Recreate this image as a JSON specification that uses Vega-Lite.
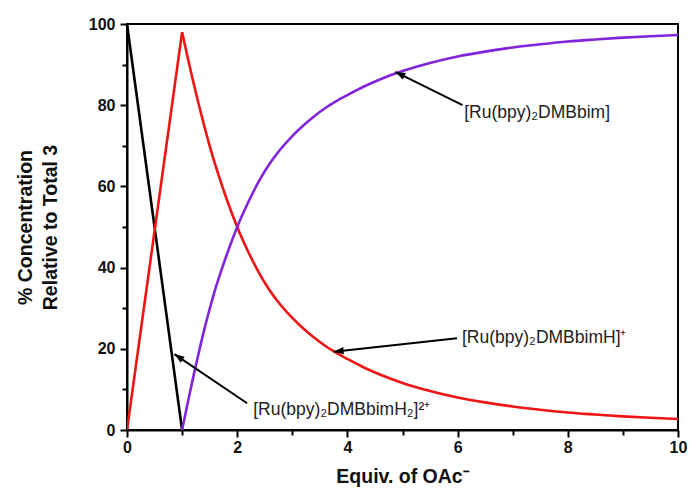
{
  "$schema": "https://vega.github.io/schema/vega-lite/v6.json",
  "width": 551,
  "height": 406,
  "autosize": {"type": "none"},
  "padding": {"left": 127, "top": 24, "right": 11, "bottom": 66},
  "background": "white",
  "config": {
    "view": {"stroke": "#000", "strokeWidth": 2},
    "font": "Liberation Sans",
    "axis": {
      "domainColor": "#000",
      "domainWidth": 2,
      "tickColor": "#000",
      "tickWidth": 2,
      "grid": false,
      "labelFont": "Liberation Sans",
      "labelFontWeight": "bold",
      "labelFontSize": 16,
      "labelColor": "#111",
      "titleFont": "Liberation Sans",
      "titleFontWeight": "bold",
      "titleFontSize": 19.5,
      "titleColor": "#111"
    }
  },
  "datasets": {
    "curves": [
      {"x": 0, "pct": 100, "species": "H2", "phase": "before"},
      {"x": 1, "pct": 0, "species": "H2", "phase": "before"},

      {"x": 0, "pct": 0, "species": "H", "phase": "before"},
      {"x": 1, "pct": 98, "species": "H", "phase": "before"},
      {"x": 1.0, "pct": 98, "species": "H", "phase": "after"},
      {"x": 1.1, "pct": 91.8, "species": "H", "phase": "after"},
      {"x": 1.2, "pct": 85.9, "species": "H", "phase": "after"},
      {"x": 1.3, "pct": 80.3, "species": "H", "phase": "after"},
      {"x": 1.4, "pct": 75.0, "species": "H", "phase": "after"},
      {"x": 1.5, "pct": 70.0, "species": "H", "phase": "after"},
      {"x": 1.6, "pct": 65.4, "species": "H", "phase": "after"},
      {"x": 1.7, "pct": 61.2, "species": "H", "phase": "after"},
      {"x": 1.8, "pct": 57.2, "species": "H", "phase": "after"},
      {"x": 1.9, "pct": 53.5, "species": "H", "phase": "after"},
      {"x": 2.0, "pct": 50.0, "species": "H", "phase": "after"},
      {"x": 2.2, "pct": 43.9, "species": "H", "phase": "after"},
      {"x": 2.4, "pct": 38.6, "species": "H", "phase": "after"},
      {"x": 2.6, "pct": 34.2, "species": "H", "phase": "after"},
      {"x": 2.8, "pct": 30.6, "species": "H", "phase": "after"},
      {"x": 3.0, "pct": 27.6, "species": "H", "phase": "after"},
      {"x": 3.2, "pct": 25.0, "species": "H", "phase": "after"},
      {"x": 3.4, "pct": 22.7, "species": "H", "phase": "after"},
      {"x": 3.6, "pct": 20.7, "species": "H", "phase": "after"},
      {"x": 3.8, "pct": 19.0, "species": "H", "phase": "after"},
      {"x": 4.0, "pct": 17.5, "species": "H", "phase": "after"},
      {"x": 4.3, "pct": 15.4, "species": "H", "phase": "after"},
      {"x": 4.6, "pct": 13.6, "species": "H", "phase": "after"},
      {"x": 5.0, "pct": 11.6, "species": "H", "phase": "after"},
      {"x": 5.5, "pct": 9.6, "species": "H", "phase": "after"},
      {"x": 6.0, "pct": 8.0, "species": "H", "phase": "after"},
      {"x": 6.5, "pct": 6.8, "species": "H", "phase": "after"},
      {"x": 7.0, "pct": 5.8, "species": "H", "phase": "after"},
      {"x": 7.5, "pct": 5.0, "species": "H", "phase": "after"},
      {"x": 8.0, "pct": 4.3, "species": "H", "phase": "after"},
      {"x": 8.5, "pct": 3.8, "species": "H", "phase": "after"},
      {"x": 9.0, "pct": 3.35, "species": "H", "phase": "after"},
      {"x": 9.5, "pct": 3.0, "species": "H", "phase": "after"},
      {"x": 10.0, "pct": 2.7, "species": "H", "phase": "after"},

      {"x": 1.0, "pct": 0, "species": "A", "phase": "after"},
      {"x": 1.1, "pct": 6.6, "species": "A", "phase": "after"},
      {"x": 1.2, "pct": 12.9, "species": "A", "phase": "after"},
      {"x": 1.3, "pct": 18.9, "species": "A", "phase": "after"},
      {"x": 1.4, "pct": 24.6, "species": "A", "phase": "after"},
      {"x": 1.5, "pct": 29.8, "species": "A", "phase": "after"},
      {"x": 1.6, "pct": 34.6, "species": "A", "phase": "after"},
      {"x": 1.7, "pct": 38.8, "species": "A", "phase": "after"},
      {"x": 1.8, "pct": 42.8, "species": "A", "phase": "after"},
      {"x": 1.9, "pct": 46.5, "species": "A", "phase": "after"},
      {"x": 2.0, "pct": 50.0, "species": "A", "phase": "after"},
      {"x": 2.2, "pct": 56.1, "species": "A", "phase": "after"},
      {"x": 2.4, "pct": 61.4, "species": "A", "phase": "after"},
      {"x": 2.6, "pct": 65.8, "species": "A", "phase": "after"},
      {"x": 2.8, "pct": 69.4, "species": "A", "phase": "after"},
      {"x": 3.0, "pct": 72.4, "species": "A", "phase": "after"},
      {"x": 3.2, "pct": 75.0, "species": "A", "phase": "after"},
      {"x": 3.4, "pct": 77.3, "species": "A", "phase": "after"},
      {"x": 3.6, "pct": 79.3, "species": "A", "phase": "after"},
      {"x": 3.8, "pct": 81.0, "species": "A", "phase": "after"},
      {"x": 4.0, "pct": 82.5, "species": "A", "phase": "after"},
      {"x": 4.3, "pct": 84.6, "species": "A", "phase": "after"},
      {"x": 4.6, "pct": 86.4, "species": "A", "phase": "after"},
      {"x": 5.0, "pct": 88.4, "species": "A", "phase": "after"},
      {"x": 5.5, "pct": 90.4, "species": "A", "phase": "after"},
      {"x": 6.0, "pct": 92.0, "species": "A", "phase": "after"},
      {"x": 6.5, "pct": 93.2, "species": "A", "phase": "after"},
      {"x": 7.0, "pct": 94.2, "species": "A", "phase": "after"},
      {"x": 7.5, "pct": 95.0, "species": "A", "phase": "after"},
      {"x": 8.0, "pct": 95.7, "species": "A", "phase": "after"},
      {"x": 8.5, "pct": 96.2, "species": "A", "phase": "after"},
      {"x": 9.0, "pct": 96.65, "species": "A", "phase": "after"},
      {"x": 9.5, "pct": 97.0, "species": "A", "phase": "after"},
      {"x": 10.0, "pct": 97.3, "species": "A", "phase": "after"}
    ],
    "notes": [
      {"id": "A", "tipX": 4.87, "tipY": 88.2, "tailX": 6.09, "tailY": 80.0, "labelX": 6.12, "labelY": 78.1, "label": "[Ru(bpy)₂DMBbim]"},
      {"id": "H", "tipX": 3.75, "tipY": 19.3, "tailX": 5.99, "tailY": 22.6, "labelX": 6.08, "labelY": 22.6, "label": "[Ru(bpy)₂DMBbimH]⁺"},
      {"id": "H2", "tipX": 0.86, "tipY": 18.7, "tailX": 2.18, "tailY": 6.6, "labelX": 2.29, "labelY": 4.9, "label": "[Ru(bpy)₂DMBbimH₂]²⁺"}
    ]
  },
  "layer": [
    {
      "data": {"name": "curves"},
      "mark": {"type": "line", "strokeWidth": 2.6, "clip": true, "interpolate": "monotone"},
      "encoding": {
        "x": {
          "field": "x",
          "type": "quantitative",
          "scale": {"domain": [0, 10], "nice": false, "zero": false},
          "axis": {
            "title": "Equiv. of OAc⁻",
            "values": [0, 1, 2, 3, 4, 5, 6, 7, 8, 9, 10],
            "labelExpr": "datum.value % 2 === 0 ? datum.label : ''",
            "tickSize": {"condition": {"test": "datum.value % 2 === 0", "value": 7}, "value": 5},
            "labelPadding": 2,
            "titlePadding": 12,
            "labelFlush": false
          }
        },
        "y": {
          "field": "pct",
          "type": "quantitative",
          "scale": {"domain": [0, 100], "nice": false},
          "axis": {
            "title": ["% Concentration", "Relative to Total 3"],
            "values": [0, 10, 20, 30, 40, 50, 60, 70, 80, 90, 100],
            "labelExpr": "datum.value % 20 === 0 ? datum.label : ''",
            "tickSize": {"condition": {"test": "datum.value % 20 === 0", "value": 7}, "value": 5},
            "labelPadding": 5,
            "titlePadding": 28,
            "titleLineHeight": 25,
            "labelFlush": false
          }
        },
        "color": {
          "field": "species",
          "type": "nominal",
          "scale": {"domain": ["A", "H", "H2"], "range": ["#8224dc", "#f01414", "#000000"]},
          "legend": null
        },
        "detail": {"field": "phase", "type": "nominal"},
        "order": {"field": "x", "type": "quantitative"}
      }
    },
    {
      "data": {"name": "notes"},
      "mark": {"type": "rule", "color": "#000", "strokeWidth": 2},
      "encoding": {
        "x": {"field": "tailX", "type": "quantitative"},
        "y": {"field": "tailY", "type": "quantitative"},
        "x2": {"field": "tipX"},
        "y2": {"field": "tipY"}
      }
    },
    {
      "data": {"name": "notes"},
      "transform": [{"filter": "datum.id === 'A'"}],
      "mark": {"type": "point", "shape": "M0,0L0.36,1L-0.36,1Z", "filled": true, "color": "#000", "opacity": 1, "size": 400, "angle": 296},
      "encoding": {
        "x": {"field": "tipX", "type": "quantitative"},
        "y": {"field": "tipY", "type": "quantitative"}
      }
    },
    {
      "data": {"name": "notes"},
      "transform": [{"filter": "datum.id === 'H'"}],
      "mark": {"type": "point", "shape": "M0,0L0.36,1L-0.36,1Z", "filled": true, "color": "#000", "opacity": 1, "size": 400, "angle": 264},
      "encoding": {
        "x": {"field": "tipX", "type": "quantitative"},
        "y": {"field": "tipY", "type": "quantitative"}
      }
    },
    {
      "data": {"name": "notes"},
      "transform": [{"filter": "datum.id === 'H2'"}],
      "mark": {"type": "point", "shape": "M0,0L0.36,1L-0.36,1Z", "filled": true, "color": "#000", "opacity": 1, "size": 400, "angle": 304},
      "encoding": {
        "x": {"field": "tipX", "type": "quantitative"},
        "y": {"field": "tipY", "type": "quantitative"}
      }
    },
    {
      "data": {"name": "notes"},
      "mark": {"type": "text", "align": "left", "baseline": "middle", "font": "Liberation Sans", "fontSize": 17.5, "color": "#222"},
      "encoding": {
        "x": {"field": "labelX", "type": "quantitative"},
        "y": {"field": "labelY", "type": "quantitative"},
        "text": {"field": "label"}
      }
    }
  ]
}
